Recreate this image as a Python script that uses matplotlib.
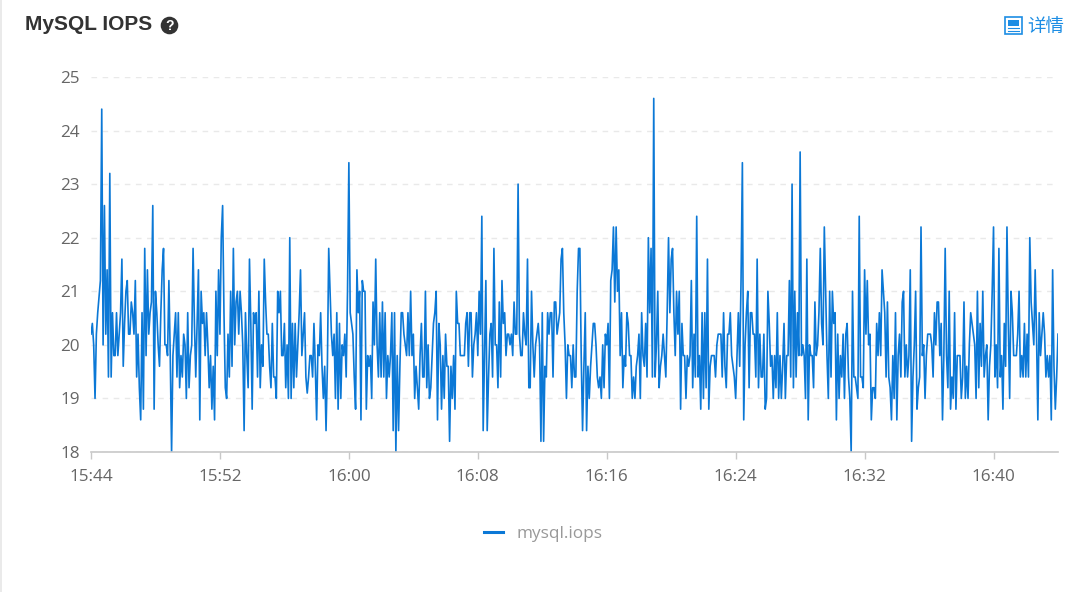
import numpy as np
import matplotlib
matplotlib.use("Agg")
import matplotlib.pyplot as plt
from matplotlib.lines import Line2D
from matplotlib.patches import Circle, Rectangle

# IOPS, one sample every 5 seconds, in six stretches
part_a = [20.2,20.4,20.0,19.0,20.2,20.6,20.9,21.2,24.4,20.0,22.6,20.2,21.4,19.4,23.2,19.4,20.6,19.8,19.8,20.6,
          19.8,20.2,20.6,21.6,19.6,20.4,21.0,21.2,20.2,20.2,20.8,20.6,20.2,21.2,19.4,20.2,19.2,18.6,20.6,18.8,
          21.8,19.8,21.4,20.2,20.6,20.8,22.6,18.8,21.0,20.6,20.0,19.6,20.6,21.4,21.8,20.0,20.0,19.8,21.2,19.8,
          18.0,19.8,20.2,20.6,19.4,20.6,19.2,19.8,19.4,20.2,20.0,19.0,20.6,19.2,19.8,20.0,21.8,20.4,19.4,20.4,
          21.4,18.6,21.0,20.4,20.6,19.8,20.6,20.0,19.2,19.8,18.8,19.6,18.6,21.0,19.8,21.4,20.2,22.0,22.6,20.6,
          19.2,19.0,20.2,19.4,21.0,19.6,21.8,20.0,20.8,21.0,20.2,21.0,20.6,20.0,18.4,20.6,19.8,19.2,21.6,20.4,
          18.8,20.6,20.4]
part_b = [20.6,19.4,21.0,19.2,20.0,19.6,21.6,20.8,20.2,20.2,19.6,19.2,20.4,19.4,19.4,19.0,21.0,20.6,21.0,19.8,
          19.8,20.4,19.2,20.0,19.0,22.0,19.0,20.4,19.2,20.4,19.4,20.0,20.6,21.4,19.8,20.2,20.6,19.4,19.1,19.4,
          19.8,19.8,19.4,20.4,19.6,18.6,20.0,19.8,20.6,19.6,19.0,19.6,18.4,19.6,21.8,21.0,20.2,19.8,20.2,19.0,
          20.6,18.8,20.4,19.0,20.0,19.8,20.2,19.4,21.0,23.4,20.6,20.4,20.2,19.4,18.8,21.4,20.6,21.0,18.6,21.2,
          21.0,21.0,18.8,19.8,19.6,19.8,19.0,20.8,20.0,21.6,20.0,19.4,20.6,19.4,20.8,19.4,20.6,19.0,19.8,19.4,
          19.8,20.6,18.4,20.6,18.0,19.8,18.4,19.6,20.6,20.6,20.2,20.0,19.8,20.6,19.8,21.0,19.8,20.2,19.0,19.6,
          19.2,18.8,19.8]
part_c = [20.4,19.4,19.4,21.0,19.2,20.0,19.0,19.2,19.8,20.4,20.6,21.0,18.6,20.4,20.0,18.8,19.8,19.0,20.2,19.6,
          19.6,18.2,19.6,19.0,19.8,18.8,21.0,20.4,20.4,19.8,19.8,19.8,19.8,20.4,20.6,19.6,20.6,20.6,19.4,20.0,
          20.2,20.6,19.8,21.0,20.2,22.4,18.4,19.8,21.2,18.4,19.4,20.2,20.4,19.4,21.8,20.0,20.0,19.2,20.8,19.4,
          21.2,20.4,20.6,19.8,20.2,20.2,20.0,20.2,19.8,20.8,20.2,20.2,23.0,20.2,19.8,19.8,20.6,20.2,20.0,21.6,
          19.2,19.2,21.0,20.0,19.4,20.0,20.2,20.4,20.0,18.2,20.6,18.2,19.6,19.4,20.6,20.2,20.6,20.6,19.4,20.8,
          20.8,20.2,20.4,20.6,21.6,21.8,20.6,20.0,19.0,20.0,19.8,19.8,19.2,20.0,19.4,19.4,21.0,21.8,21.8,19.8,
          18.4,19.6,20.6]
part_d = [18.4,19.6,19.0,19.6,20.0,20.4,20.4,20.0,19.4,19.2,19.4,19.0,20.0,19.2,20.2,20.0,20.4,19.0,21.2,21.4,
          22.2,20.8,22.2,21.0,21.4,19.8,20.6,19.2,19.8,19.6,20.6,20.4,19.8,19.8,19.0,19.4,19.0,19.6,19.8,20.2,
          19.0,20.6,19.8,19.6,20.4,19.4,22.0,20.6,21.8,19.4,24.6,19.4,20.0,21.0,19.2,19.6,19.8,20.2,19.8,19.4,
          20.6,22.0,20.6,21.6,21.8,20.6,19.8,21.0,20.2,21.0,18.8,20.4,19.8,19.8,19.0,19.8,19.6,19.8,21.2,19.2,
          20.2,19.4,22.4,19.4,19.8,18.8,20.6,19.0,20.6,19.2,21.6,18.8,19.6,19.8,19.8,19.8,19.4,20.0,20.2,20.2,
          20.2,19.4,20.6,19.6,19.2,20.2,20.2,20.6,19.8,19.6,19.4,19.0,19.8,20.6,19.6,21.2,23.4,18.6,20.0,20.6,
          21.0,19.2,20.6]
part_e = [20.6,20.2,20.2,19.4,21.6,19.2,20.2,19.4,19.4,20.2,18.8,19.0,21.0,20.4,19.6,19.8,19.0,19.8,19.2,20.6,
          19.0,19.8,19.0,19.6,20.4,19.0,19.8,19.8,21.2,19.4,23.0,19.2,21.0,19.4,20.6,19.8,23.6,19.8,20.0,19.8,
          19.0,21.6,18.6,20.0,19.8,19.8,19.2,20.8,19.8,20.0,20.6,21.8,20.4,20.0,22.2,21.0,19.8,19.0,21.0,19.4,
          21.0,20.4,20.6,18.6,20.2,19.0,19.8,19.4,20.2,19.0,20.2,20.4,19.4,19.0,18.0,21.0,19.4,19.4,19.2,19.0,
          22.4,19.4,19.4,19.2,21.4,20.2,21.2,20.0,20.2,18.6,19.2,19.2,19.0,20.4,19.8,20.6,19.8,21.4,21.0,20.6,
          19.4,20.8,19.4,19.2,18.6,19.8,19.0,20.6,18.6,19.8]
part_f = [20.2,19.4,20.8,21.0,19.4,20.0,19.4,19.8,21.4,18.2,19.4,20.0,21.0,18.8,19.2,19.4,22.2,19.8,20.0,19.0,
          19.8,20.2,20.2,20.2,20.0,19.4,20.6,20.0,20.8,20.8,19.8,20.4,18.6,19.8,21.8,19.8,19.2,21.0,18.8,19.4,
          19.0,20.6,18.8,19.8,19.8,19.8,19.0,19.4,20.8,19.0,19.6,19.0,20.0,20.6,20.4,20.2,20.0,19.0,21.0,19.2,
          20.4,19.6,21.0,19.4,19.8,20.0,18.6,19.6,20.0,21.0,22.2,19.4,20.0,19.2,21.8,19.4,19.8,18.8,20.4,19.6,
          22.2,20.4,19.0,21.0,20.6,19.8,19.8,19.8,20.2,21.0,19.4,19.8,19.4,20.4,19.4,20.2,19.4,22.0,20.8,20.4,
          20.0,21.4,20.2,18.6,20.6,19.8,20.2,20.6,20.2,19.4,19.8,19.4,19.8,18.6,21.4,19.6,18.8,19.4,20.2]

tick_labels = ["15:44", "15:52", "16:00", "16:08", "16:16", "16:24", "16:32", "16:40"]
y_ticks = [18, 19, 20, 21, 22, 23, 24, 25]

iops = np.array(part_a[:123] + part_b[:123] + part_c[:123] + part_d[:123] + part_e[:110] + part_f)
minutes = np.arange(len(iops)) * 5 / 60

fig = plt.figure(figsize=(10.89, 5.92), dpi=100)
plt.rcParams['font.family'] = ['Open Sans', 'DejaVu Sans']
ax = fig.add_axes([91 / 1089, 1 - 452 / 592, 967 / 1089, 375 / 592])

ax.plot(minutes, iops, color="#0b78d6", lw=1.2)
ax.set_xlim(0, 60)
ax.set_ylim(18, 25)
ax.set_xticks(np.arange(len(tick_labels)) * 8)
ax.set_xticklabels(tick_labels)
ax.set_yticks(y_ticks)
ax.tick_params(axis="x", length=5, width=1, color="#c8c8c8", labelcolor="#666666", labelsize=12.3, pad=7.5)
ax.tick_params(axis="y", length=0, labelcolor="#666666", labelsize=12.3, pad=8)
ax.grid(axis="y", color="#e9e9e9", lw=1, dashes=(4, 4))
ax.set_axisbelow(True)
for side in ["top", "left", "right"]:
    ax.spines[side].set_visible(False)
ax.spines["bottom"].set_color("#c8c8c8")
ax.spines["bottom"].set_linewidth(1.2)

handle = Line2D([], [], color="#0b78d6", lw=2.2)
leg = ax.legend([handle], ["mysql.iops"], loc="center", bbox_to_anchor=(543 / 1089, 1 - 534 / 592),
                bbox_transform=fig.transFigure, frameon=False, fontsize=12.4, labelcolor="#999999",
                handlelength=1.1, handletextpad=0.8)

# header decorations, in pixel coordinates of the figure
top = fig.add_axes([0, 0, 1, 1])
top.set_xlim(0, 1089)
top.set_ylim(592, 0)
top.axis("off")
top.patch.set_alpha(0)
top.add_line(Line2D([0.5, 0.5], [0, 592], color="#e6e6e6", lw=1.2))
top.text(25, 25, "MySQL IOPS", family="Liberation Sans", fontweight="bold", fontsize=15,
         color="#333333", va="center")
top.add_patch(Circle((169.5, 25.5), 8.8, color="#333333", lw=0))
top.text(169.5, 25.5, "?", family="Liberation Sans", fontweight="bold", fontsize=10, color="white",
         ha="center", va="center")

blue = "#1c8de4"
top.add_patch(Rectangle((1005, 17), 16.5, 16.5, fill=False, ec=blue, lw=1.2))
top.add_patch(Rectangle((1008, 20), 10.5, 5.5, color=blue, lw=0))
top.add_line(Line2D([1008, 1018.5], [28, 28], color=blue, lw=0.8))
top.add_line(Line2D([1008, 1018.5], [30.5, 30.5], color=blue, lw=0.8))
top.text(1027, 27, "详情", family=["Noto Sans CJK SC", "DejaVu Sans"], fontsize=13.3, color=blue, va="center")

fig.savefig("out.png", dpi=100, facecolor="white")
plt.close()
